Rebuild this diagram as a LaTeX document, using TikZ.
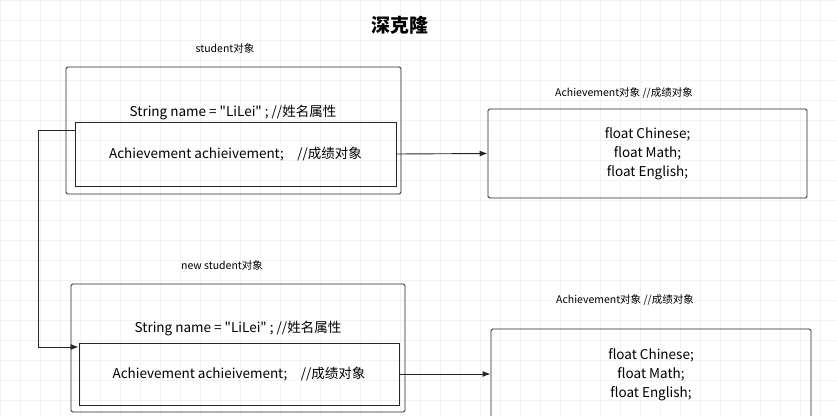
\documentclass[tikz,border=0pt]{standalone}
\usepackage{fontspec}
\setmainfont{Noto Sans CJK SC}[Ligatures=TeXOff]
\usetikzlibrary{arrows.meta, positioning}

\begin{document}
\begin{tikzpicture}[x=1pt, y=-1pt,
    box/.style={draw=black!85, line width=0.9pt, rounded corners=1.5pt, inner sep=0pt},
    inbox/.style={draw=black!85, line width=0.9pt, inner sep=0pt},
    caption/.style={font=\fontsize{10.5}{12}\selectfont},
    txt/.style={font=\fontsize{13.5}{19}\selectfont, align=center},
    link/.style={-{Latex[length=8pt, width=6pt]}, line width=0.9pt, black!85}]
    \useasboundingbox (0,0) rectangle (837,415);
    % faint grid
    \foreach \gx in {0,20,...,837} \draw[black!5] (\gx,0) -- (\gx,415);
    \foreach \gy in {0,20,...,415} \draw[black!5] (0,\gy) -- (837,\gy);
    \node[font=\bfseries\fontsize{19}{21}\selectfont] (title) at (400,25) {深克隆};
    % first student
    \node[box, minimum width=335pt, minimum height=127pt] (stu) at (233.5,130.5) {};
    \node[caption] (stulab) at (225,48) {student对象};
    \node[txt] (stuname) at (233,112) {String name = "LiLei" ; //姓名属性};
    \node[inbox, minimum width=321pt, minimum height=64pt, txt] (stuach) at (235.5,154) {Achievement achieivement;\quad//成绩对象};
    \node[box, minimum width=319pt, minimum height=89pt, txt] (ach) at (647.5,153.5) {float Chinese;\\float Math;\\float English;};
    \node[caption] (achlab) at (624,93) {Achievement对象 //成绩对象};
    % new student
    \node[box, minimum width=334pt, minimum height=128pt] (nstu) at (238,348) {};
    \node[caption] (nstulab) at (222,265) {new student对象};
    \node[txt] (nstuname) at (238,328) {String name = "LiLei" ; //姓名属性};
    \node[inbox, minimum width=320pt, minimum height=62pt, txt] (nstuach) at (239,374) {Achievement achieivement;\quad//成绩对象};
    \node[box, minimum width=320pt, minimum height=92pt, txt] (nach) at (651,375) {float Chinese;\\float Math;\\float English;};
    \node[caption] (nachlab) at (625,300) {Achievement对象 //成绩对象};
    % connectors
    \coordinate (bend1) at (38,130);
    \coordinate (bend2) at (38,347);
    \draw[link] (stuach.east) -- (ach.west);
    \draw[link] (nstuach.east) -- (nach.west |- nstuach.east);
    \draw[link] (stuach.west |- bend1) -- (bend1) -- (bend2) -- (nstuach.west |- bend2);
\end{tikzpicture}
\end{document}
